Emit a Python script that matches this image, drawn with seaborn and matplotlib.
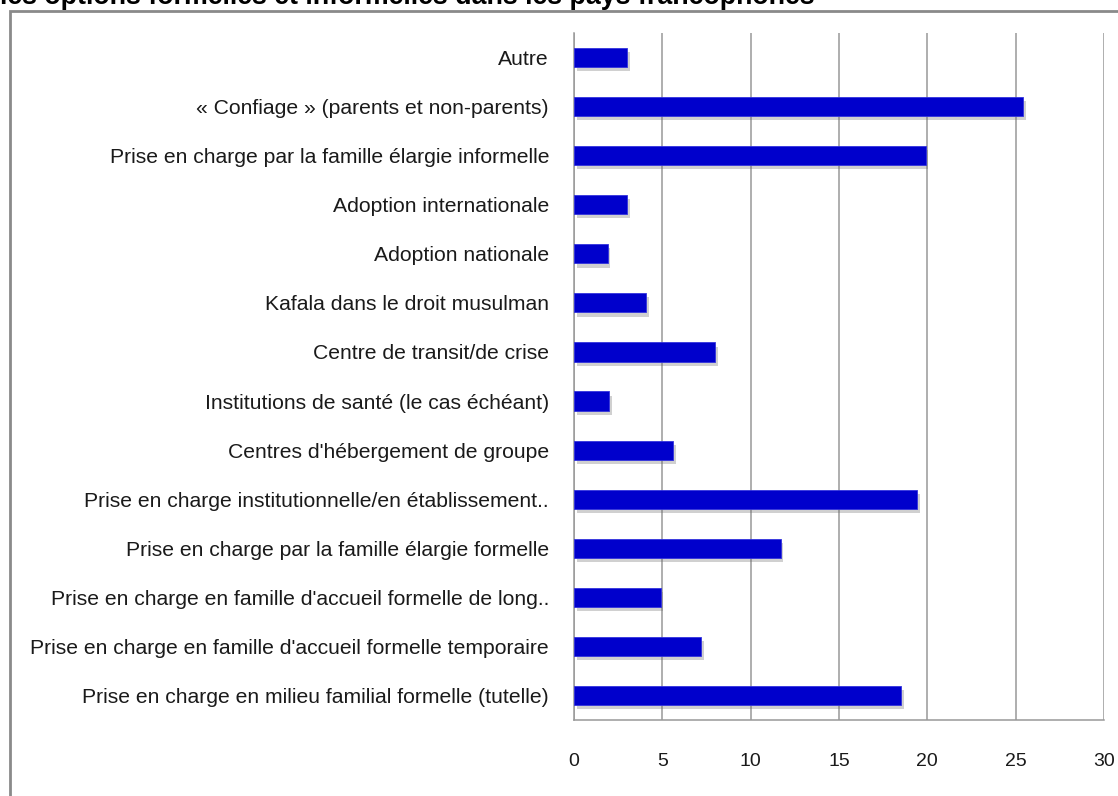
import matplotlib
matplotlib.use("Agg")
import matplotlib.pyplot as plt
import matplotlib.patheffects as pe
from matplotlib.patches import Rectangle
import seaborn as sns
import pandas as pd
import numpy as np

categories = [
    "Autre",
    "« Confiage » (parents et non-parents)",
    "Prise en charge par la famille élargie informelle",
    "Adoption internationale",
    "Adoption nationale",
    "Kafala dans le droit musulman",
    "Centre de transit/de crise",
    "Institutions de santé (le cas échéant)",
    "Centres d'hébergement de groupe",
    "Prise en charge institutionnelle/en établissement..",
    "Prise en charge par la famille élargie formelle",
    "Prise en charge en famille d'accueil formelle de long..",
    "Prise en charge en famille d'accueil formelle temporaire",
    "Prise en charge en milieu familial formelle (tutelle)",
]
values = [3.0, 25.4, 19.9, 3.0, 1.9, 4.1, 8.0, 2.0, 5.6, 19.4, 11.7, 4.9, 7.2, 18.5]
x_ticks = [0, 5, 10, 15, 20, 25, 30]
title = "les options formelles et informelles dans les pays francophones"

df = pd.DataFrame({"categorie": categories, "valeur": values})

sns.set_theme(style="white")
plt.rcParams["font.family"] = ["Liberation Sans", "DejaVu Sans"]

fig = plt.figure(figsize=(11.18, 7.96), dpi=100)
ax = fig.add_axes([574 / 1118, 1 - 720 / 796, (1104 - 574) / 1118, (720 - 33) / 796])

sns.barplot(data=df, x="valeur", y="categorie", orient="h", color="#0000CC",
            width=0.39, saturation=1, ax=ax, zorder=3)
for p in ax.patches:
    p.set_edgecolor("#3333DD")
    p.set_linewidth(0.6)
    p.set_path_effects([pe.SimplePatchShadow(offset=(2, -3), shadow_rgbFace="#666666", alpha=0.3),
                        pe.Normal()])

ax.set_xlim(0, 30)
ax.set_ylim(len(categories) - 0.5, -0.5)
ax.set_xticks(x_ticks)
ax.set_xticklabels([str(t) for t in x_ticks])
ax.set_xlabel("")
ax.set_ylabel("")

ax.xaxis.grid(True, color="#999999", linewidth=1.1, zorder=0)
ax.set_axisbelow(True)
for s in ["top", "right"]:
    ax.spines[s].set_visible(False)
for s in ["left", "bottom"]:
    ax.spines[s].set_color("#999999")
    ax.spines[s].set_linewidth(1.1)

# category boundary ticks on the y axis
ax.set_yticks(np.arange(len(categories)), labels=categories)
ax.set_yticks(np.arange(-0.5, len(categories), 1.0), minor=True)
ax.tick_params(axis="y", which="major", length=0, pad=18, labelsize=15.2, labelcolor="#1a1a1a")
ax.tick_params(axis="y", which="minor", length=6, width=1.1, color="#999999", direction="out")
ax.tick_params(axis="x", which="major", length=6, width=1.1, color="#999999", direction="out",
               pad=18, labelsize=14, labelcolor="#1a1a1a")

# outer frame
fig.patches.append(Rectangle((10 / 1118, -0.05), 1.2, 1 - 11 / 796 + 0.05,
                             transform=fig.transFigure, fill=False,
                             edgecolor="#8a8a8a", linewidth=2))

# clipped title at the top
fig.text(0.0, 1 - 4 / 796, title, ha="left", va="baseline", fontsize=19.3,
         fontweight="bold", color="#000000", family="Liberation Sans")

fig.savefig("out.png", dpi=100)
